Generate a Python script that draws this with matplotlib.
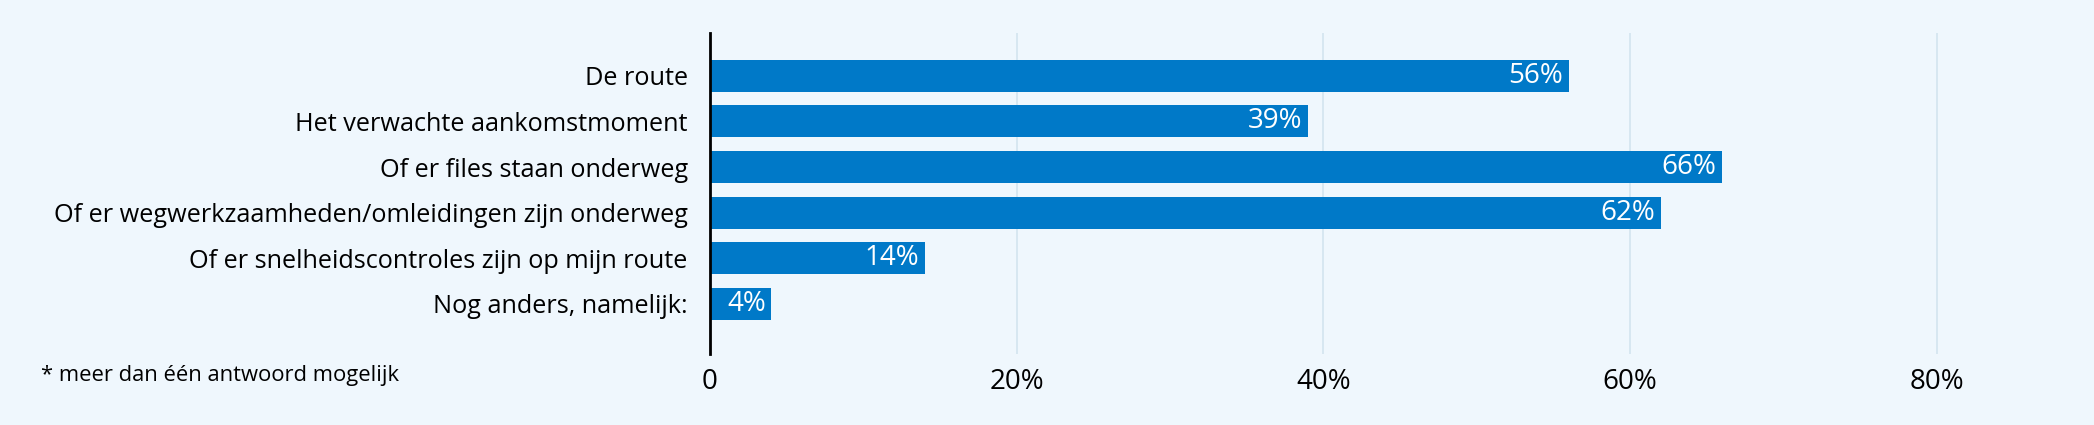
import matplotlib.pyplot as plt
from matplotlib import font_manager

categories = [
    "De route",
    "Het verwachte aankomstmoment",
    "Of er files staan onderweg",
    "Of er wegwerkzaamheden/omleidingen zijn onderweg",
    "Of er snelheidscontroles zijn op mijn route",
    "Nog anders, namelijk:",
]
values = [56, 39, 66, 62, 14, 4]
xticks = [0, 20, 40, 60, 80]
xtick_labels = ["0", "20%", "40%", "60%", "80%"]
footnote = "* meer dan één antwoord mogelijk"

names = {f.name for f in font_manager.fontManager.ttflist}
family = "Liberation Sans Narrow" if "Liberation Sans Narrow" in names else "Open Sans"
plt.rcParams['font.family'] = [family, 'DejaVu Sans']

bg = "#eff7fd"
bar_color = "#0079c8"

fig = plt.figure(figsize=(20.94, 4.25), dpi=100, facecolor=bg)
ax = fig.add_axes([710 / 2094, 1 - 354 / 425, (2090 - 710) / 2094, (354 - 33) / 425])
ax.set_facecolor(bg)

y = list(range(len(categories)))
ax.barh(y, values, height=0.70, color=bar_color, zorder=3)
for yi, v in zip(y, values):
    ax.text(v - 0.35, yi, f"{v}%", color="white", ha="right", va="center",
            fontsize=20, zorder=4)

ax.set_xlim(0, 90)
ax.set_ylim(6.1, -0.94)
ax.set_yticks(y)
ax.set_yticklabels(categories, fontsize=18.2)
ax.tick_params(axis="y", length=0, pad=16)
ax.set_xticks(xticks)
ax.set_xticklabels(xtick_labels, fontsize=20)
ax.tick_params(axis="x", length=0, pad=10)

ax.grid(axis="x", color="#d3e4ef", linewidth=1.2, zorder=0)
for s in ["top", "right", "bottom"]:
    ax.spines[s].set_visible(False)
ax.spines["left"].set_linewidth(2)
ax.spines["left"].set_color("black")
ax.spines["left"].set_zorder(5)

fig.text(41 / 2094, 1 - 376 / 425, footnote, fontsize=15.8, ha="left", va="center")

fig.savefig("out.png", facecolor=bg)
